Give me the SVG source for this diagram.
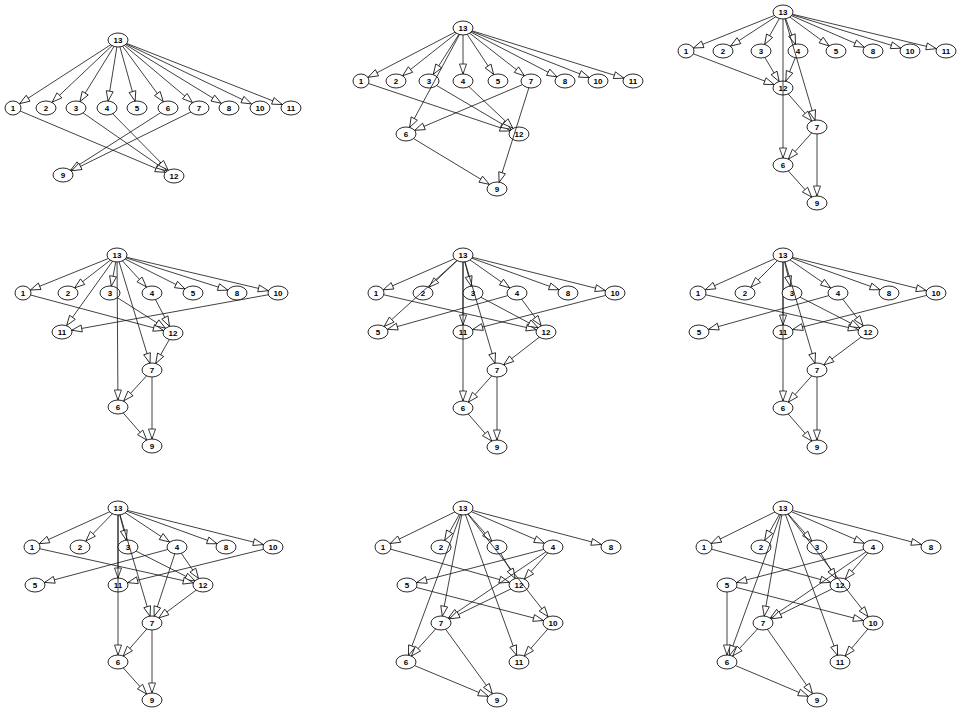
<svg xmlns="http://www.w3.org/2000/svg" width="957" height="712" viewBox="0 0 957 712">
<style>
.e line{stroke:#111;stroke-width:0.8;fill:none}
.o line{stroke:#111;stroke-width:0.8;fill:none}
.n ellipse{fill:#fff;stroke:#111;stroke-width:0.9}
.n text{font-family:"Liberation Sans",Arial,sans-serif;font-weight:bold;font-size:8px;text-anchor:middle;fill:#000}
.a7{marker-end:url(#e7)}.a75{marker-end:url(#e75)}.a8{marker-end:url(#e8)}.a85{marker-end:url(#e85)}.a9{marker-end:url(#e9)}.a95{marker-end:url(#e95)}.a10{marker-end:url(#e10)}
</style>
<defs>
<marker id="e7" markerUnits="userSpaceOnUse" markerWidth="30" markerHeight="10" refX="17" refY="3.5" orient="auto" overflow="visible"><path d="M0,0 L10,3.5 L0,7 z" fill="#fff" stroke="#111" stroke-width="0.8"/></marker>
<marker id="e75" markerUnits="userSpaceOnUse" markerWidth="30" markerHeight="10" refX="17.5" refY="3.5" orient="auto" overflow="visible"><path d="M0,0 L10,3.5 L0,7 z" fill="#fff" stroke="#111" stroke-width="0.8"/></marker>
<marker id="e8" markerUnits="userSpaceOnUse" markerWidth="30" markerHeight="10" refX="18" refY="3.5" orient="auto" overflow="visible"><path d="M0,0 L10,3.5 L0,7 z" fill="#fff" stroke="#111" stroke-width="0.8"/></marker>
<marker id="e85" markerUnits="userSpaceOnUse" markerWidth="30" markerHeight="10" refX="18.5" refY="3.5" orient="auto" overflow="visible"><path d="M0,0 L10,3.5 L0,7 z" fill="#fff" stroke="#111" stroke-width="0.8"/></marker>
<marker id="e9" markerUnits="userSpaceOnUse" markerWidth="30" markerHeight="10" refX="19" refY="3.5" orient="auto" overflow="visible"><path d="M0,0 L10,3.5 L0,7 z" fill="#fff" stroke="#111" stroke-width="0.8"/></marker>
<marker id="e95" markerUnits="userSpaceOnUse" markerWidth="30" markerHeight="10" refX="19.5" refY="3.5" orient="auto" overflow="visible"><path d="M0,0 L10,3.5 L0,7 z" fill="#fff" stroke="#111" stroke-width="0.8"/></marker>
<marker id="e10" markerUnits="userSpaceOnUse" markerWidth="30" markerHeight="10" refX="20" refY="3.5" orient="auto" overflow="visible"><path d="M0,0 L10,3.5 L0,7 z" fill="#fff" stroke="#111" stroke-width="0.8"/></marker>
<clipPath id="c2_3"><ellipse cx="429" cy="81" rx="10" ry="7"/></clipPath>
<clipPath id="c2_12"><ellipse cx="519" cy="134" rx="10" ry="7"/></clipPath>
<clipPath id="c3_12"><ellipse cx="783" cy="88" rx="10" ry="7"/></clipPath>
<clipPath id="c3_4"><ellipse cx="798" cy="51" rx="10" ry="7"/></clipPath>
<clipPath id="c4_3"><ellipse cx="110" cy="293" rx="10" ry="7"/></clipPath>
<clipPath id="c5_2"><ellipse cx="423" cy="293" rx="10" ry="7"/></clipPath>
<clipPath id="c5_3"><ellipse cx="473" cy="293" rx="10" ry="7"/></clipPath>
<clipPath id="c5_11"><ellipse cx="463" cy="332" rx="10" ry="7"/></clipPath>
<clipPath id="c6_3"><ellipse cx="792" cy="293" rx="10" ry="7"/></clipPath>
<clipPath id="c6_11"><ellipse cx="783" cy="332" rx="10" ry="7"/></clipPath>
<clipPath id="c7_3"><ellipse cx="128" cy="547" rx="10" ry="7"/></clipPath>
<clipPath id="c7_11"><ellipse cx="118" cy="585" rx="10" ry="7"/></clipPath>
<clipPath id="c8_3"><ellipse cx="497" cy="547" rx="10" ry="7"/></clipPath>
<clipPath id="c8_12"><ellipse cx="519" cy="585" rx="10" ry="7"/></clipPath>
<clipPath id="c8_2"><ellipse cx="441" cy="547" rx="10" ry="7"/></clipPath>
<clipPath id="c9_3"><ellipse cx="817" cy="547" rx="10" ry="7"/></clipPath>
<clipPath id="c9_12"><ellipse cx="840" cy="585" rx="10" ry="7"/></clipPath>
<clipPath id="c9_2"><ellipse cx="761" cy="547" rx="10" ry="7"/></clipPath>
</defs>
<rect width="957" height="712" fill="#fff"/>

<!-- Panel 1 -->
<g id="panel1">
<g id="p1-edges" class="e">
<line class="a8" x1="118" y1="40" x2="13" y2="108"/>
<line class="a85" x1="118" y1="40" x2="46" y2="108"/>
<line class="a75" x1="118" y1="40" x2="76" y2="108"/>
<line class="a7" x1="118" y1="40" x2="107" y2="108"/>
<line class="a7" x1="118" y1="40" x2="137" y2="108"/>
<line class="a8" x1="118" y1="40" x2="168" y2="108"/>
<line class="a85" x1="118" y1="40" x2="199" y2="108"/>
<line class="a9" x1="118" y1="40" x2="229" y2="108"/>
<line class="a95" x1="118" y1="40" x2="260" y2="108"/>
<line class="a95" x1="118" y1="40" x2="291" y2="108"/>
<line class="a95" x1="13" y1="108" x2="174" y2="176"/>
<line class="a9" x1="76" y1="108" x2="174" y2="176"/>
<line class="a85" x1="107" y1="108" x2="174" y2="176"/>
<line class="a9" x1="168" y1="108" x2="63" y2="175"/>
<line class="a95" x1="199" y1="108" x2="63" y2="175"/>
</g>
<g id="p1-n13" class="n"><ellipse cx="118" cy="40" rx="10" ry="7"/><text x="118" y="43">13</text></g>
<g id="p1-n1" class="n"><ellipse cx="13" cy="108" rx="8" ry="7"/><text x="13" y="111">1</text></g>
<g id="p1-n2" class="n"><ellipse cx="46" cy="108" rx="10" ry="7"/><text x="46" y="111">2</text></g>
<g id="p1-n3" class="n"><ellipse cx="76" cy="108" rx="10" ry="7"/><text x="76" y="111">3</text></g>
<g id="p1-n4" class="n"><ellipse cx="107" cy="108" rx="10" ry="7"/><text x="107" y="111">4</text></g>
<g id="p1-n5" class="n"><ellipse cx="137" cy="108" rx="10" ry="7"/><text x="137" y="111">5</text></g>
<g id="p1-n6" class="n"><ellipse cx="168" cy="108" rx="10" ry="7"/><text x="168" y="111">6</text></g>
<g id="p1-n7" class="n"><ellipse cx="199" cy="108" rx="10" ry="7"/><text x="199" y="111">7</text></g>
<g id="p1-n8" class="n"><ellipse cx="229" cy="108" rx="10" ry="7"/><text x="229" y="111">8</text></g>
<g id="p1-n10" class="n"><ellipse cx="260" cy="108" rx="10" ry="7"/><text x="260" y="111">10</text></g>
<g id="p1-n11" class="n"><ellipse cx="291" cy="108" rx="10" ry="7"/><text x="291" y="111">11</text></g>
<g id="p1-n9" class="n"><ellipse cx="63" cy="175" rx="10" ry="7"/><text x="63" y="178">9</text></g>
<g id="p1-n12" class="n"><ellipse cx="174" cy="176" rx="10" ry="7"/><text x="174" y="179">12</text></g>
</g>

<!-- Panel 2 -->
<g id="panel2">
<g id="p2-edges" class="e">
<line class="a8" x1="463" y1="28" x2="361" y2="81"/>
<line class="a85" x1="463" y1="28" x2="396" y2="81"/>
<line class="a8" x1="463" y1="28" x2="429" y2="81"/>
<line class="a7" x1="463" y1="28" x2="463" y2="81"/>
<line class="a8" x1="463" y1="28" x2="498" y2="81"/>
<line class="a85" x1="463" y1="28" x2="531" y2="81"/>
<line class="a9" x1="463" y1="28" x2="565" y2="81"/>
<line class="a95" x1="463" y1="28" x2="598" y2="81"/>
<line class="a95" x1="463" y1="28" x2="633" y2="81"/>
<line class="a75" x1="463" y1="28" x2="406" y2="134"/>
<line class="a95" x1="361" y1="81" x2="519" y2="134"/>
<line class="a9" x1="429" y1="81" x2="519" y2="134"/>
<line class="a85" x1="463" y1="81" x2="519" y2="134"/>
<line class="a95" x1="531" y1="81" x2="406" y2="134"/>
<line class="a7" x1="531" y1="81" x2="497" y2="189"/>
<line class="a9" x1="406" y1="134" x2="497" y2="189"/>
</g>
<g id="p2-n13" class="n"><ellipse cx="463" cy="28" rx="10" ry="7"/><text x="463" y="31">13</text></g>
<g id="p2-n1" class="n"><ellipse cx="361" cy="81" rx="8" ry="7"/><text x="361" y="84">1</text></g>
<g id="p2-n2" class="n"><ellipse cx="396" cy="81" rx="10" ry="7"/><text x="396" y="84">2</text></g>
<g id="p2-n3" class="n"><ellipse cx="429" cy="81" rx="10" ry="7"/><text x="429" y="84">3</text></g>
<g id="p2-n4" class="n"><ellipse cx="463" cy="81" rx="10" ry="7"/><text x="463" y="84">4</text></g>
<g id="p2-n5" class="n"><ellipse cx="498" cy="81" rx="10" ry="7"/><text x="498" y="84">5</text></g>
<g id="p2-n7" class="n"><ellipse cx="531" cy="81" rx="10" ry="7"/><text x="531" y="84">7</text></g>
<g id="p2-n8" class="n"><ellipse cx="565" cy="81" rx="10" ry="7"/><text x="565" y="84">8</text></g>
<g id="p2-n10" class="n"><ellipse cx="598" cy="81" rx="10" ry="7"/><text x="598" y="84">10</text></g>
<g id="p2-n11" class="n"><ellipse cx="633" cy="81" rx="10" ry="7"/><text x="633" y="84">11</text></g>
<g id="p2-n6" class="n"><ellipse cx="406" cy="134" rx="10" ry="7"/><text x="406" y="137">6</text></g>
<g id="p2-n12" class="n"><ellipse cx="519" cy="134" rx="10" ry="7"/><text x="519" y="137">12</text></g>
<g id="p2-n9" class="n"><ellipse cx="497" cy="189" rx="10" ry="7"/><text x="497" y="192">9</text></g>
<g id="p2-over" class="o">
<line x1="463" y1="28" x2="406" y2="134" clip-path="url(#c2_3)"/>
<line x1="531" y1="81" x2="497" y2="189" clip-path="url(#c2_12)"/>
</g>
</g>

<!-- Panel 3 -->
<g id="panel3">
<g id="p3-edges" class="e">
<line class="a8" x1="783" y1="12" x2="686" y2="51"/>
<line class="a9" x1="783" y1="12" x2="723" y2="51"/>
<line class="a75" x1="783" y1="12" x2="761" y2="51"/>
<line class="a7" x1="783" y1="12" x2="798" y2="51"/>
<line class="a85" x1="783" y1="12" x2="836" y2="51"/>
<line class="a95" x1="783" y1="12" x2="873" y2="51"/>
<line class="a95" x1="783" y1="12" x2="910" y2="51"/>
<line class="a10" x1="783" y1="12" x2="946" y2="51"/>
<line class="a7" x1="783" y1="12" x2="783" y2="165"/>
<line class="a7" x1="783" y1="12" x2="817" y2="127"/>
<line class="a95" x1="686" y1="51" x2="783" y2="88"/>
<line class="a75" x1="761" y1="51" x2="783" y2="88"/>
<line class="a75" x1="798" y1="51" x2="783" y2="88"/>
<line class="a8" x1="783" y1="88" x2="817" y2="127"/>
<line class="a8" x1="817" y1="127" x2="783" y2="165"/>
<line class="a7" x1="817" y1="127" x2="817" y2="203"/>
<line class="a8" x1="783" y1="165" x2="817" y2="203"/>
</g>
<g id="p3-n13" class="n"><ellipse cx="783" cy="12" rx="10" ry="7"/><text x="783" y="15">13</text></g>
<g id="p3-n1" class="n"><ellipse cx="686" cy="51" rx="8" ry="7"/><text x="686" y="54">1</text></g>
<g id="p3-n2" class="n"><ellipse cx="723" cy="51" rx="10" ry="7"/><text x="723" y="54">2</text></g>
<g id="p3-n3" class="n"><ellipse cx="761" cy="51" rx="10" ry="7"/><text x="761" y="54">3</text></g>
<g id="p3-n4" class="n"><ellipse cx="798" cy="51" rx="10" ry="7"/><text x="798" y="54">4</text></g>
<g id="p3-n5" class="n"><ellipse cx="836" cy="51" rx="10" ry="7"/><text x="836" y="54">5</text></g>
<g id="p3-n8" class="n"><ellipse cx="873" cy="51" rx="10" ry="7"/><text x="873" y="54">8</text></g>
<g id="p3-n10" class="n"><ellipse cx="910" cy="51" rx="10" ry="7"/><text x="910" y="54">10</text></g>
<g id="p3-n11" class="n"><ellipse cx="946" cy="51" rx="10" ry="7"/><text x="946" y="54">11</text></g>
<g id="p3-n12" class="n"><ellipse cx="783" cy="88" rx="10" ry="7"/><text x="783" y="91">12</text></g>
<g id="p3-n7" class="n"><ellipse cx="817" cy="127" rx="10" ry="7"/><text x="817" y="130">7</text></g>
<g id="p3-n6" class="n"><ellipse cx="783" cy="165" rx="10" ry="7"/><text x="783" y="168">6</text></g>
<g id="p3-n9" class="n"><ellipse cx="817" cy="203" rx="10" ry="7"/><text x="817" y="206">9</text></g>
<g id="p3-over" class="o">
<line x1="783" y1="12" x2="783" y2="165" clip-path="url(#c3_12)"/>
<line x1="783" y1="12" x2="817" y2="127" clip-path="url(#c3_4)"/>
</g>
</g>

<!-- Panel 4 -->
<g id="panel4">
<g id="p4-edges" class="e">
<line class="a8" x1="117" y1="255" x2="23" y2="293"/>
<line class="a85" x1="117" y1="255" x2="68" y2="293"/>
<line class="a7" x1="117" y1="255" x2="110" y2="293"/>
<line class="a85" x1="117" y1="255" x2="152" y2="293"/>
<line class="a9" x1="117" y1="255" x2="193" y2="293"/>
<line class="a95" x1="117" y1="255" x2="237" y2="293"/>
<line class="a10" x1="117" y1="255" x2="278" y2="293"/>
<line class="a8" x1="117" y1="255" x2="62" y2="332"/>
<line class="a7" x1="117" y1="255" x2="118" y2="407"/>
<line class="a7" x1="117" y1="255" x2="152" y2="370"/>
<line class="a10" x1="23" y1="293" x2="173" y2="333"/>
<line class="a9" x1="110" y1="293" x2="173" y2="333"/>
<line class="a75" x1="152" y1="293" x2="173" y2="333"/>
<line class="a10" x1="278" y1="293" x2="62" y2="332"/>
<line class="a75" x1="173" y1="333" x2="152" y2="370"/>
<line class="a85" x1="152" y1="370" x2="118" y2="407"/>
<line class="a7" x1="152" y1="370" x2="152" y2="446"/>
<line class="a8" x1="118" y1="407" x2="152" y2="446"/>
</g>
<g id="p4-n13" class="n"><ellipse cx="117" cy="255" rx="10" ry="7"/><text x="117" y="258">13</text></g>
<g id="p4-n1" class="n"><ellipse cx="23" cy="293" rx="8" ry="7"/><text x="23" y="296">1</text></g>
<g id="p4-n2" class="n"><ellipse cx="68" cy="293" rx="10" ry="7"/><text x="68" y="296">2</text></g>
<g id="p4-n3" class="n"><ellipse cx="110" cy="293" rx="10" ry="7"/><text x="110" y="296">3</text></g>
<g id="p4-n4" class="n"><ellipse cx="152" cy="293" rx="10" ry="7"/><text x="152" y="296">4</text></g>
<g id="p4-n5" class="n"><ellipse cx="193" cy="293" rx="10" ry="7"/><text x="193" y="296">5</text></g>
<g id="p4-n8" class="n"><ellipse cx="237" cy="293" rx="10" ry="7"/><text x="237" y="296">8</text></g>
<g id="p4-n10" class="n"><ellipse cx="278" cy="293" rx="10" ry="7"/><text x="278" y="296">10</text></g>
<g id="p4-n11" class="n"><ellipse cx="62" cy="332" rx="10" ry="7"/><text x="62" y="335">11</text></g>
<g id="p4-n12" class="n"><ellipse cx="173" cy="333" rx="10" ry="7"/><text x="173" y="336">12</text></g>
<g id="p4-n7" class="n"><ellipse cx="152" cy="370" rx="10" ry="7"/><text x="152" y="373">7</text></g>
<g id="p4-n6" class="n"><ellipse cx="118" cy="407" rx="10" ry="7"/><text x="118" y="410">6</text></g>
<g id="p4-n9" class="n"><ellipse cx="152" cy="446" rx="10" ry="7"/><text x="152" y="449">9</text></g>
<g id="p4-over" class="o">
<line x1="117" y1="255" x2="118" y2="407" clip-path="url(#c4_3)"/>
</g>
</g>

<!-- Panel 5 -->
<g id="panel5">
<g id="p5-edges" class="e">
<line class="a8" x1="463" y1="255" x2="376" y2="293"/>
<line class="a85" x1="463" y1="255" x2="423" y2="293"/>
<line class="a7" x1="463" y1="255" x2="473" y2="293"/>
<line class="a9" x1="463" y1="255" x2="517" y2="293"/>
<line class="a95" x1="463" y1="255" x2="568" y2="293"/>
<line class="a10" x1="463" y1="255" x2="615" y2="293"/>
<line class="a85" x1="463" y1="255" x2="378" y2="332"/>
<line class="a7" x1="463" y1="255" x2="463" y2="332"/>
<line class="a7" x1="463" y1="255" x2="463" y2="408"/>
<line class="a7" x1="463" y1="255" x2="497" y2="370"/>
<line class="a10" x1="517" y1="293" x2="378" y2="332"/>
<line class="a10" x1="376" y1="293" x2="546" y2="332"/>
<line class="a9" x1="473" y1="293" x2="546" y2="332"/>
<line class="a8" x1="517" y1="293" x2="546" y2="332"/>
<line class="a10" x1="615" y1="293" x2="463" y2="332"/>
<line class="a85" x1="546" y1="332" x2="497" y2="370"/>
<line class="a8" x1="497" y1="370" x2="463" y2="408"/>
<line class="a7" x1="497" y1="370" x2="497" y2="447"/>
<line class="a8" x1="463" y1="408" x2="497" y2="447"/>
</g>
<g id="p5-n13" class="n"><ellipse cx="463" cy="255" rx="10" ry="7"/><text x="463" y="258">13</text></g>
<g id="p5-n1" class="n"><ellipse cx="376" cy="293" rx="8" ry="7"/><text x="376" y="296">1</text></g>
<g id="p5-n2" class="n"><ellipse cx="423" cy="293" rx="10" ry="7"/><text x="423" y="296">2</text></g>
<g id="p5-n3" class="n"><ellipse cx="473" cy="293" rx="10" ry="7"/><text x="473" y="296">3</text></g>
<g id="p5-n4" class="n"><ellipse cx="517" cy="293" rx="10" ry="7"/><text x="517" y="296">4</text></g>
<g id="p5-n8" class="n"><ellipse cx="568" cy="293" rx="10" ry="7"/><text x="568" y="296">8</text></g>
<g id="p5-n10" class="n"><ellipse cx="615" cy="293" rx="10" ry="7"/><text x="615" y="296">10</text></g>
<g id="p5-n5" class="n"><ellipse cx="378" cy="332" rx="10" ry="7"/><text x="378" y="335">5</text></g>
<g id="p5-n11" class="n"><ellipse cx="463" cy="332" rx="10" ry="7"/><text x="463" y="335">11</text></g>
<g id="p5-n12" class="n"><ellipse cx="546" cy="332" rx="10" ry="7"/><text x="546" y="335">12</text></g>
<g id="p5-n7" class="n"><ellipse cx="497" cy="370" rx="10" ry="7"/><text x="497" y="373">7</text></g>
<g id="p5-n6" class="n"><ellipse cx="463" cy="408" rx="10" ry="7"/><text x="463" y="411">6</text></g>
<g id="p5-n9" class="n"><ellipse cx="497" cy="447" rx="10" ry="7"/><text x="497" y="450">9</text></g>
<g id="p5-over" class="o">
<line x1="463" y1="255" x2="378" y2="332" clip-path="url(#c5_2)"/>
<line x1="463" y1="255" x2="497" y2="370" clip-path="url(#c5_3)"/>
<line x1="463" y1="255" x2="463" y2="408" clip-path="url(#c5_11)"/>
</g>
</g>

<!-- Panel 6 -->
<g id="panel6">
<g id="p6-edges" class="e">
<line class="a8" x1="783" y1="255" x2="698" y2="293"/>
<line class="a85" x1="783" y1="255" x2="745" y2="293"/>
<line class="a7" x1="783" y1="255" x2="792" y2="293"/>
<line class="a9" x1="783" y1="255" x2="838" y2="293"/>
<line class="a95" x1="783" y1="255" x2="889" y2="293"/>
<line class="a10" x1="783" y1="255" x2="936" y2="293"/>
<line class="a7" x1="783" y1="255" x2="783" y2="332"/>
<line class="a7" x1="783" y1="255" x2="783" y2="408"/>
<line class="a7" x1="783" y1="255" x2="817" y2="370"/>
<line class="a10" x1="838" y1="293" x2="699" y2="332"/>
<line class="a10" x1="698" y1="293" x2="868" y2="332"/>
<line class="a9" x1="792" y1="293" x2="868" y2="332"/>
<line class="a8" x1="838" y1="293" x2="868" y2="332"/>
<line class="a10" x1="936" y1="293" x2="783" y2="332"/>
<line class="a85" x1="868" y1="332" x2="817" y2="370"/>
<line class="a8" x1="817" y1="370" x2="783" y2="408"/>
<line class="a7" x1="817" y1="370" x2="817" y2="447"/>
<line class="a8" x1="783" y1="408" x2="817" y2="447"/>
</g>
<g id="p6-n13" class="n"><ellipse cx="783" cy="255" rx="10" ry="7"/><text x="783" y="258">13</text></g>
<g id="p6-n1" class="n"><ellipse cx="698" cy="293" rx="8" ry="7"/><text x="698" y="296">1</text></g>
<g id="p6-n2" class="n"><ellipse cx="745" cy="293" rx="10" ry="7"/><text x="745" y="296">2</text></g>
<g id="p6-n3" class="n"><ellipse cx="792" cy="293" rx="10" ry="7"/><text x="792" y="296">3</text></g>
<g id="p6-n4" class="n"><ellipse cx="838" cy="293" rx="10" ry="7"/><text x="838" y="296">4</text></g>
<g id="p6-n8" class="n"><ellipse cx="889" cy="293" rx="10" ry="7"/><text x="889" y="296">8</text></g>
<g id="p6-n10" class="n"><ellipse cx="936" cy="293" rx="10" ry="7"/><text x="936" y="296">10</text></g>
<g id="p6-n5" class="n"><ellipse cx="699" cy="332" rx="10" ry="7"/><text x="699" y="335">5</text></g>
<g id="p6-n11" class="n"><ellipse cx="783" cy="332" rx="10" ry="7"/><text x="783" y="335">11</text></g>
<g id="p6-n12" class="n"><ellipse cx="868" cy="332" rx="10" ry="7"/><text x="868" y="335">12</text></g>
<g id="p6-n7" class="n"><ellipse cx="817" cy="370" rx="10" ry="7"/><text x="817" y="373">7</text></g>
<g id="p6-n6" class="n"><ellipse cx="783" cy="408" rx="10" ry="7"/><text x="783" y="411">6</text></g>
<g id="p6-n9" class="n"><ellipse cx="817" cy="447" rx="10" ry="7"/><text x="817" y="450">9</text></g>
<g id="p6-over" class="o">
<line x1="783" y1="255" x2="817" y2="370" clip-path="url(#c6_3)"/>
<line x1="783" y1="255" x2="783" y2="408" clip-path="url(#c6_11)"/>
</g>
</g>

<!-- Panel 7 -->
<g id="panel7">
<g id="p7-edges" class="e">
<line class="a8" x1="118" y1="508" x2="32" y2="547"/>
<line class="a85" x1="118" y1="508" x2="80" y2="547"/>
<line class="a7" x1="118" y1="508" x2="128" y2="547"/>
<line class="a9" x1="118" y1="508" x2="177" y2="547"/>
<line class="a95" x1="118" y1="508" x2="226" y2="547"/>
<line class="a10" x1="118" y1="508" x2="273" y2="547"/>
<line class="a7" x1="118" y1="508" x2="118" y2="585"/>
<line class="a7" x1="118" y1="508" x2="118" y2="662"/>
<line class="a7" x1="118" y1="508" x2="152" y2="623"/>
<line class="a10" x1="177" y1="547" x2="35" y2="585"/>
<line class="a7" x1="177" y1="547" x2="152" y2="623"/>
<line class="a8" x1="177" y1="547" x2="203" y2="585"/>
<line class="a9" x1="128" y1="547" x2="203" y2="585"/>
<line class="a10" x1="32" y1="547" x2="203" y2="585"/>
<line class="a10" x1="273" y1="547" x2="118" y2="585"/>
<line class="a85" x1="203" y1="585" x2="152" y2="623"/>
<line class="a8" x1="152" y1="623" x2="118" y2="662"/>
<line class="a7" x1="152" y1="623" x2="152" y2="700"/>
<line class="a8" x1="118" y1="662" x2="152" y2="700"/>
</g>
<g id="p7-n13" class="n"><ellipse cx="118" cy="508" rx="10" ry="7"/><text x="118" y="511">13</text></g>
<g id="p7-n1" class="n"><ellipse cx="32" cy="547" rx="8" ry="7"/><text x="32" y="550">1</text></g>
<g id="p7-n2" class="n"><ellipse cx="80" cy="547" rx="10" ry="7"/><text x="80" y="550">2</text></g>
<g id="p7-n3" class="n"><ellipse cx="128" cy="547" rx="10" ry="7"/><text x="128" y="550">3</text></g>
<g id="p7-n4" class="n"><ellipse cx="177" cy="547" rx="10" ry="7"/><text x="177" y="550">4</text></g>
<g id="p7-n8" class="n"><ellipse cx="226" cy="547" rx="10" ry="7"/><text x="226" y="550">8</text></g>
<g id="p7-n10" class="n"><ellipse cx="273" cy="547" rx="10" ry="7"/><text x="273" y="550">10</text></g>
<g id="p7-n5" class="n"><ellipse cx="35" cy="585" rx="10" ry="7"/><text x="35" y="588">5</text></g>
<g id="p7-n11" class="n"><ellipse cx="118" cy="585" rx="10" ry="7"/><text x="118" y="588">11</text></g>
<g id="p7-n12" class="n"><ellipse cx="203" cy="585" rx="10" ry="7"/><text x="203" y="588">12</text></g>
<g id="p7-n7" class="n"><ellipse cx="152" cy="623" rx="10" ry="7"/><text x="152" y="626">7</text></g>
<g id="p7-n6" class="n"><ellipse cx="118" cy="662" rx="10" ry="7"/><text x="118" y="665">6</text></g>
<g id="p7-n9" class="n"><ellipse cx="152" cy="700" rx="10" ry="7"/><text x="152" y="703">9</text></g>
<g id="p7-over" class="o">
<line x1="118" y1="508" x2="152" y2="623" clip-path="url(#c7_3)"/>
<line x1="118" y1="508" x2="118" y2="662" clip-path="url(#c7_11)"/>
</g>
</g>

<!-- Panel 8 -->
<g id="panel8">
<g id="p8-edges" class="e">
<line class="a8" x1="463" y1="508" x2="383" y2="547"/>
<line class="a75" x1="463" y1="508" x2="441" y2="547"/>
<line class="a8" x1="463" y1="508" x2="497" y2="547"/>
<line class="a95" x1="463" y1="508" x2="553" y2="547"/>
<line class="a10" x1="463" y1="508" x2="611" y2="547"/>
<line class="a7" x1="463" y1="508" x2="441" y2="623"/>
<line class="a7" x1="463" y1="508" x2="406" y2="662"/>
<line class="a7" x1="463" y1="508" x2="519" y2="662"/>
<line class="a8" x1="463" y1="508" x2="553" y2="623"/>
<line class="a10" x1="383" y1="547" x2="519" y2="585"/>
<line class="a75" x1="497" y1="547" x2="519" y2="585"/>
<line class="a8" x1="553" y1="547" x2="519" y2="585"/>
<line class="a10" x1="553" y1="547" x2="407" y2="585"/>
<line class="a9" x1="553" y1="547" x2="441" y2="623"/>
<line class="a95" x1="519" y1="585" x2="441" y2="623"/>
<line class="a10" x1="407" y1="585" x2="553" y2="623"/>
<line class="a8" x1="441" y1="623" x2="406" y2="662"/>
<line class="a8" x1="441" y1="623" x2="497" y2="700"/>
<line class="a95" x1="406" y1="662" x2="497" y2="700"/>
<line class="a8" x1="553" y1="623" x2="519" y2="662"/>
</g>
<g id="p8-n13" class="n"><ellipse cx="463" cy="508" rx="10" ry="7"/><text x="463" y="511">13</text></g>
<g id="p8-n1" class="n"><ellipse cx="383" cy="547" rx="8" ry="7"/><text x="383" y="550">1</text></g>
<g id="p8-n2" class="n"><ellipse cx="441" cy="547" rx="10" ry="7"/><text x="441" y="550">2</text></g>
<g id="p8-n3" class="n"><ellipse cx="497" cy="547" rx="10" ry="7"/><text x="497" y="550">3</text></g>
<g id="p8-n4" class="n"><ellipse cx="553" cy="547" rx="10" ry="7"/><text x="553" y="550">4</text></g>
<g id="p8-n8" class="n"><ellipse cx="611" cy="547" rx="10" ry="7"/><text x="611" y="550">8</text></g>
<g id="p8-n5" class="n"><ellipse cx="407" cy="585" rx="10" ry="7"/><text x="407" y="588">5</text></g>
<g id="p8-n12" class="n"><ellipse cx="519" cy="585" rx="10" ry="7"/><text x="519" y="588">12</text></g>
<g id="p8-n7" class="n"><ellipse cx="441" cy="623" rx="10" ry="7"/><text x="441" y="626">7</text></g>
<g id="p8-n10" class="n"><ellipse cx="553" cy="623" rx="10" ry="7"/><text x="553" y="626">10</text></g>
<g id="p8-n6" class="n"><ellipse cx="406" cy="662" rx="10" ry="7"/><text x="406" y="665">6</text></g>
<g id="p8-n11" class="n"><ellipse cx="519" cy="662" rx="10" ry="7"/><text x="519" y="665">11</text></g>
<g id="p8-n9" class="n"><ellipse cx="497" cy="700" rx="10" ry="7"/><text x="497" y="703">9</text></g>
<g id="p8-over" class="o">
<line x1="463" y1="508" x2="553" y2="623" clip-path="url(#c8_3)"/>
<line x1="463" y1="508" x2="553" y2="623" clip-path="url(#c8_12)"/>
<line x1="463" y1="508" x2="406" y2="662" clip-path="url(#c8_2)"/>
</g>
</g>

<!-- Panel 9 -->
<g id="panel9">
<g id="p9-edges" class="e">
<line class="a8" x1="783" y1="508" x2="704" y2="547"/>
<line class="a75" x1="783" y1="508" x2="761" y2="547"/>
<line class="a8" x1="783" y1="508" x2="817" y2="547"/>
<line class="a95" x1="783" y1="508" x2="873" y2="547"/>
<line class="a10" x1="783" y1="508" x2="931" y2="547"/>
<line class="a7" x1="783" y1="508" x2="763" y2="623"/>
<line class="a7" x1="783" y1="508" x2="727" y2="662"/>
<line class="a7" x1="783" y1="508" x2="840" y2="662"/>
<line class="a8" x1="783" y1="508" x2="873" y2="623"/>
<line class="a10" x1="704" y1="547" x2="840" y2="585"/>
<line class="a75" x1="817" y1="547" x2="840" y2="585"/>
<line class="a8" x1="873" y1="547" x2="840" y2="585"/>
<line class="a10" x1="873" y1="547" x2="727" y2="585"/>
<line class="a9" x1="873" y1="547" x2="763" y2="623"/>
<line class="a95" x1="840" y1="585" x2="763" y2="623"/>
<line class="a10" x1="727" y1="585" x2="873" y2="623"/>
<line class="a7" x1="727" y1="585" x2="727" y2="662"/>
<line class="a85" x1="763" y1="623" x2="727" y2="662"/>
<line class="a8" x1="763" y1="623" x2="817" y2="700"/>
<line class="a95" x1="727" y1="662" x2="817" y2="700"/>
<line class="a8" x1="873" y1="623" x2="840" y2="662"/>
</g>
<g id="p9-n13" class="n"><ellipse cx="783" cy="508" rx="10" ry="7"/><text x="783" y="511">13</text></g>
<g id="p9-n1" class="n"><ellipse cx="704" cy="547" rx="8" ry="7"/><text x="704" y="550">1</text></g>
<g id="p9-n2" class="n"><ellipse cx="761" cy="547" rx="10" ry="7"/><text x="761" y="550">2</text></g>
<g id="p9-n3" class="n"><ellipse cx="817" cy="547" rx="10" ry="7"/><text x="817" y="550">3</text></g>
<g id="p9-n4" class="n"><ellipse cx="873" cy="547" rx="10" ry="7"/><text x="873" y="550">4</text></g>
<g id="p9-n8" class="n"><ellipse cx="931" cy="547" rx="10" ry="7"/><text x="931" y="550">8</text></g>
<g id="p9-n5" class="n"><ellipse cx="727" cy="585" rx="10" ry="7"/><text x="727" y="588">5</text></g>
<g id="p9-n12" class="n"><ellipse cx="840" cy="585" rx="10" ry="7"/><text x="840" y="588">12</text></g>
<g id="p9-n7" class="n"><ellipse cx="763" cy="623" rx="10" ry="7"/><text x="763" y="626">7</text></g>
<g id="p9-n10" class="n"><ellipse cx="873" cy="623" rx="10" ry="7"/><text x="873" y="626">10</text></g>
<g id="p9-n6" class="n"><ellipse cx="727" cy="662" rx="10" ry="7"/><text x="727" y="665">6</text></g>
<g id="p9-n11" class="n"><ellipse cx="840" cy="662" rx="10" ry="7"/><text x="840" y="665">11</text></g>
<g id="p9-n9" class="n"><ellipse cx="817" cy="700" rx="10" ry="7"/><text x="817" y="703">9</text></g>
<g id="p9-over" class="o">
<line x1="783" y1="508" x2="873" y2="623" clip-path="url(#c9_3)"/>
<line x1="783" y1="508" x2="873" y2="623" clip-path="url(#c9_12)"/>
<line x1="783" y1="508" x2="727" y2="662" clip-path="url(#c9_2)"/>
</g>
</g>
</svg>
